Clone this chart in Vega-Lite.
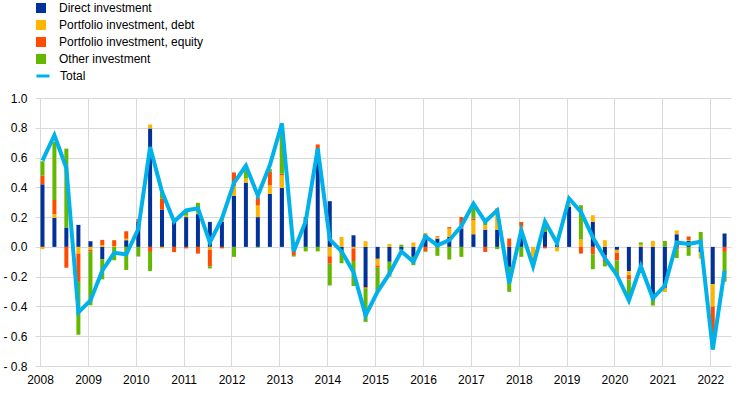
{
  "$schema": "https://vega.github.io/schema/vega-lite/v6.json",
  "width": 696,
  "height": 268,
  "autosize": {"type": "none"},
  "padding": {"left": 35, "top": 98, "right": 13, "bottom": 28},
  "background": "white",
  "config": {
    "font": "Liberation Sans",
    "view": {"stroke": null},
    "axis": {"labelFont": "Liberation Sans", "labelFontSize": 12, "labelColor": "#000000", "gridColor": "#d9d9d9", "gridWidth": 1, "domain": false, "ticks": false, "title": null},
    "legend": {"labelFont": "Liberation Sans", "labelFontSize": 12, "labelColor": "#000000", "padding": 0, "title": null}
  },
  "data": {
    "values": [
      {"d": "2008-01-20", "direct": 0.42, "debt": -0.015, "equity": 0.06, "other": 0.095, "total": 0.58},
      {"d": "2008-04-20", "direct": 0.195, "debt": 0.025, "equity": 0.095, "other": 0.39, "total": 0.75},
      {"d": "2008-07-20", "direct": 0.13, "debt": 0, "equity": -0.14, "other": 0.53, "total": 0.53},
      {"d": "2008-10-20", "direct": 0.148, "debt": -0.045, "equity": -0.19, "other": -0.355, "total": -0.44},
      {"d": "2009-01-20", "direct": 0.038, "debt": -0.02, "equity": -0.012, "other": -0.36, "total": -0.36},
      {"d": "2009-04-20", "direct": -0.083, "debt": 0.012, "equity": 0.035, "other": -0.135, "total": -0.16},
      {"d": "2009-07-20", "direct": 0, "debt": 0.005, "equity": 0.04, "other": -0.09, "total": -0.04},
      {"d": "2009-10-20", "direct": 0.045, "debt": 0.01, "equity": 0.05, "other": -0.155, "total": -0.05},
      {"d": "2010-01-20", "direct": 0.168, "debt": 0, "equity": 0.018, "other": -0.065, "total": 0.12},
      {"d": "2010-04-20", "direct": 0.795, "debt": 0.027, "equity": -0.034, "other": -0.128, "total": 0.67},
      {"d": "2010-07-20", "direct": 0.25, "debt": -0.01, "equity": 0.075, "other": 0.045, "total": 0.37},
      {"d": "2010-10-20", "direct": 0.18, "debt": 0, "equity": -0.035, "other": 0, "total": 0.17},
      {"d": "2011-01-20", "direct": 0.2, "debt": 0.01, "equity": -0.01, "other": 0.025, "total": 0.245},
      {"d": "2011-04-20", "direct": 0.22, "debt": 0.01, "equity": -0.045, "other": 0.066, "total": 0.26},
      {"d": "2011-07-20", "direct": 0.168, "debt": -0.02, "equity": -0.11, "other": -0.015, "total": 0.03},
      {"d": "2011-10-20", "direct": 0.17, "debt": 0.01, "equity": -0.01, "other": 0.01, "total": 0.19},
      {"d": "2012-01-20", "direct": 0.343, "debt": 0.067, "equity": 0.09, "other": -0.067, "total": 0.43},
      {"d": "2012-04-20", "direct": 0.432, "debt": 0.027, "equity": 0, "other": 0.056, "total": 0.545},
      {"d": "2012-07-20", "direct": 0.2, "debt": 0.078, "equity": 0.056, "other": -0.005, "total": 0.345},
      {"d": "2012-10-20", "direct": 0.356, "debt": 0.058, "equity": 0.09, "other": 0.018, "total": 0.55},
      {"d": "2013-01-20", "direct": 0.396, "debt": 0.085, "equity": 0.01, "other": 0.28, "total": 0.83},
      {"d": "2013-04-20", "direct": -0.03, "debt": 0, "equity": -0.025, "other": -0.01, "total": -0.03},
      {"d": "2013-07-20", "direct": 0.2, "debt": 0, "equity": 0, "other": -0.03, "total": 0.17},
      {"d": "2013-10-20", "direct": 0.66, "debt": 0, "equity": 0.028, "other": -0.03, "total": 0.66},
      {"d": "2014-01-20", "direct": 0.307, "debt": -0.063, "equity": -0.05, "other": -0.146, "total": 0.05},
      {"d": "2014-04-20", "direct": -0.04, "debt": 0.067, "equity": 0, "other": -0.07, "total": -0.03},
      {"d": "2014-07-20", "direct": 0.078, "debt": -0.01, "equity": -0.085, "other": -0.168, "total": -0.17},
      {"d": "2014-10-20", "direct": -0.27, "debt": 0.038, "equity": -0.01, "other": -0.224, "total": -0.46},
      {"d": "2015-01-20", "direct": -0.08, "debt": -0.045, "equity": -0.015, "other": -0.16, "total": -0.3},
      {"d": "2015-04-20", "direct": -0.1, "debt": 0.02, "equity": 0, "other": -0.1, "total": -0.18},
      {"d": "2015-07-20", "direct": -0.02, "debt": 0, "equity": 0, "other": 0.015, "total": -0.03},
      {"d": "2015-10-20", "direct": -0.067, "debt": 0.03, "equity": 0, "other": -0.056, "total": -0.1},
      {"d": "2016-01-20", "direct": 0.083, "debt": 0.01, "equity": -0.03, "other": -0.005, "total": 0.07},
      {"d": "2016-04-20", "direct": 0.056, "debt": 0.01, "equity": 0.005, "other": -0.06, "total": 0.01},
      {"d": "2016-07-20", "direct": 0.067, "debt": 0.056, "equity": 0.01, "other": -0.085, "total": 0.045},
      {"d": "2016-10-20", "direct": 0.123, "debt": 0, "equity": 0.078, "other": -0.067, "total": 0.14},
      {"d": "2017-01-20", "direct": 0.085, "debt": 0.095, "equity": 0.01, "other": 0.09, "total": 0.29},
      {"d": "2017-04-20", "direct": 0.116, "debt": 0.03, "equity": -0.034, "other": 0.045, "total": 0.17},
      {"d": "2017-07-20", "direct": 0.116, "debt": 0.108, "equity": 0.034, "other": -0.015, "total": 0.245},
      {"d": "2017-10-20", "direct": -0.134, "debt": 0, "equity": 0.056, "other": -0.168, "total": -0.245},
      {"d": "2018-01-20", "direct": 0.067, "debt": 0.07, "equity": 0.03, "other": -0.067, "total": 0.11},
      {"d": "2018-04-20", "direct": 0, "debt": -0.075, "equity": -0.03, "other": 0, "total": -0.13},
      {"d": "2018-07-20", "direct": 0.1, "debt": 0, "equity": -0.01, "other": 0.067, "total": 0.17},
      {"d": "2018-10-20", "direct": 0.015, "debt": -0.03, "equity": 0, "other": 0.01, "total": 0.025},
      {"d": "2019-01-20", "direct": 0.27, "debt": 0.02, "equity": 0, "other": 0, "total": 0.325},
      {"d": "2019-04-20", "direct": 0, "debt": 0.05, "equity": -0.045, "other": 0.23, "total": 0.235},
      {"d": "2019-07-20", "direct": 0.168, "debt": 0.045, "equity": -0.05, "other": -0.1, "total": 0.065},
      {"d": "2019-10-20", "direct": -0.056, "debt": 0.045, "equity": -0.045, "other": -0.03, "total": -0.075},
      {"d": "2020-01-20", "direct": -0.02, "debt": -0.02, "equity": -0.05, "other": -0.105, "total": -0.19},
      {"d": "2020-04-20", "direct": -0.163, "debt": -0.027, "equity": -0.03, "other": -0.105, "total": -0.36},
      {"d": "2020-07-20", "direct": -0.125, "debt": 0.015, "equity": 0, "other": 0.015, "total": -0.13},
      {"d": "2020-10-20", "direct": -0.36, "debt": 0.04, "equity": 0, "other": -0.034, "total": -0.345},
      {"d": "2021-01-20", "direct": -0.275, "debt": -0.028, "equity": 0, "other": 0.04, "total": -0.26},
      {"d": "2021-04-20", "direct": 0.085, "debt": 0.026, "equity": -0.015, "other": -0.06, "total": 0.03},
      {"d": "2021-07-20", "direct": 0.04, "debt": 0.005, "equity": 0.025, "other": -0.06, "total": 0.02},
      {"d": "2021-10-20", "direct": -0.034, "debt": -0.045, "equity": 0, "other": 0.1, "total": 0.035},
      {"d": "2022-01-20", "direct": -0.25, "debt": -0.15, "equity": -0.27, "other": 0, "total": -0.69},
      {"d": "2022-04-20", "direct": 0.09, "debt": 0, "equity": -0.034, "other": -0.2, "total": -0.16}
    ]
  },
  "layer": [
    {
      "transform": [
        {"fold": ["direct", "debt", "equity", "other"], "as": ["series", "value"]},
        {"calculate": "indexof(['direct','debt','equity','other'], datum.series)", "as": "k"}
      ],
      "mark": {"type": "bar", "width": 4},
      "encoding": {
        "x": {
          "field": "d", "type": "temporal",
          "scale": {"type": "utc", "domain": [{"year": 2008, "month": 1, "date": 1, "utc": true}, {"year": 2022, "month": 5, "date": 1, "utc": true}]},
          "axis": {"format": "%Y", "tickCount": {"interval": "year", "step": 1}, "grid": true, "labelPadding": 8, "labelFlush": false, "labelOverlap": false}
        },
        "y": {
          "field": "value", "type": "quantitative", "stack": "zero",
          "scale": {"domain": [-0.8, 1.0], "nice": false},
          "axis": {"values": [-0.8, -0.6, -0.4, -0.2, 0, 0.2, 0.4, 0.6, 0.8, 1.0], "tickCount": 12, "grid": true, "labelPadding": 8, "labelOverlap": false, "labelBound": false,
                   "labelExpr": "datum.value < -0.001 ? '- ' + format(-datum.value, '.1f') : format(abs(datum.value), '.1f')"}
        },
        "fill": {
          "field": "series", "type": "nominal",
          "scale": {"domain": ["direct", "debt", "equity", "other"], "range": ["#003299", "#ffb400", "#ff4b00", "#65b800"]},
          "legend": {"orient": "none", "legendX": 0, "legendY": -96, "symbolType": "square", "symbolSize": 100, "symbolStrokeWidth": 0, "labelOffset": 12, "rowPadding": 5,
                     "labelExpr": "datum.label == 'direct' ? 'Direct investment' : datum.label == 'debt' ? 'Portfolio investment, debt' : datum.label == 'equity' ? 'Portfolio investment, equity' : 'Other investment'"}
        },
        "order": {"field": "k", "type": "quantitative", "sort": "ascending"}
      }
    },
    {
      "mark": {"type": "line", "strokeWidth": 4, "strokeJoin": "miter"},
      "encoding": {
        "x": {"field": "d", "type": "temporal"},
        "y": {"field": "total", "type": "quantitative"},
        "stroke": {
          "datum": "Total",
          "scale": {"domain": ["Total"], "range": ["#00b1ea"]},
          "legend": {"orient": "none", "legendX": 0, "legendY": -30, "symbolType": "stroke", "symbolSize": 169, "symbolStrokeWidth": 3, "labelOffset": 9}
        }
      }
    }
  ]
}
